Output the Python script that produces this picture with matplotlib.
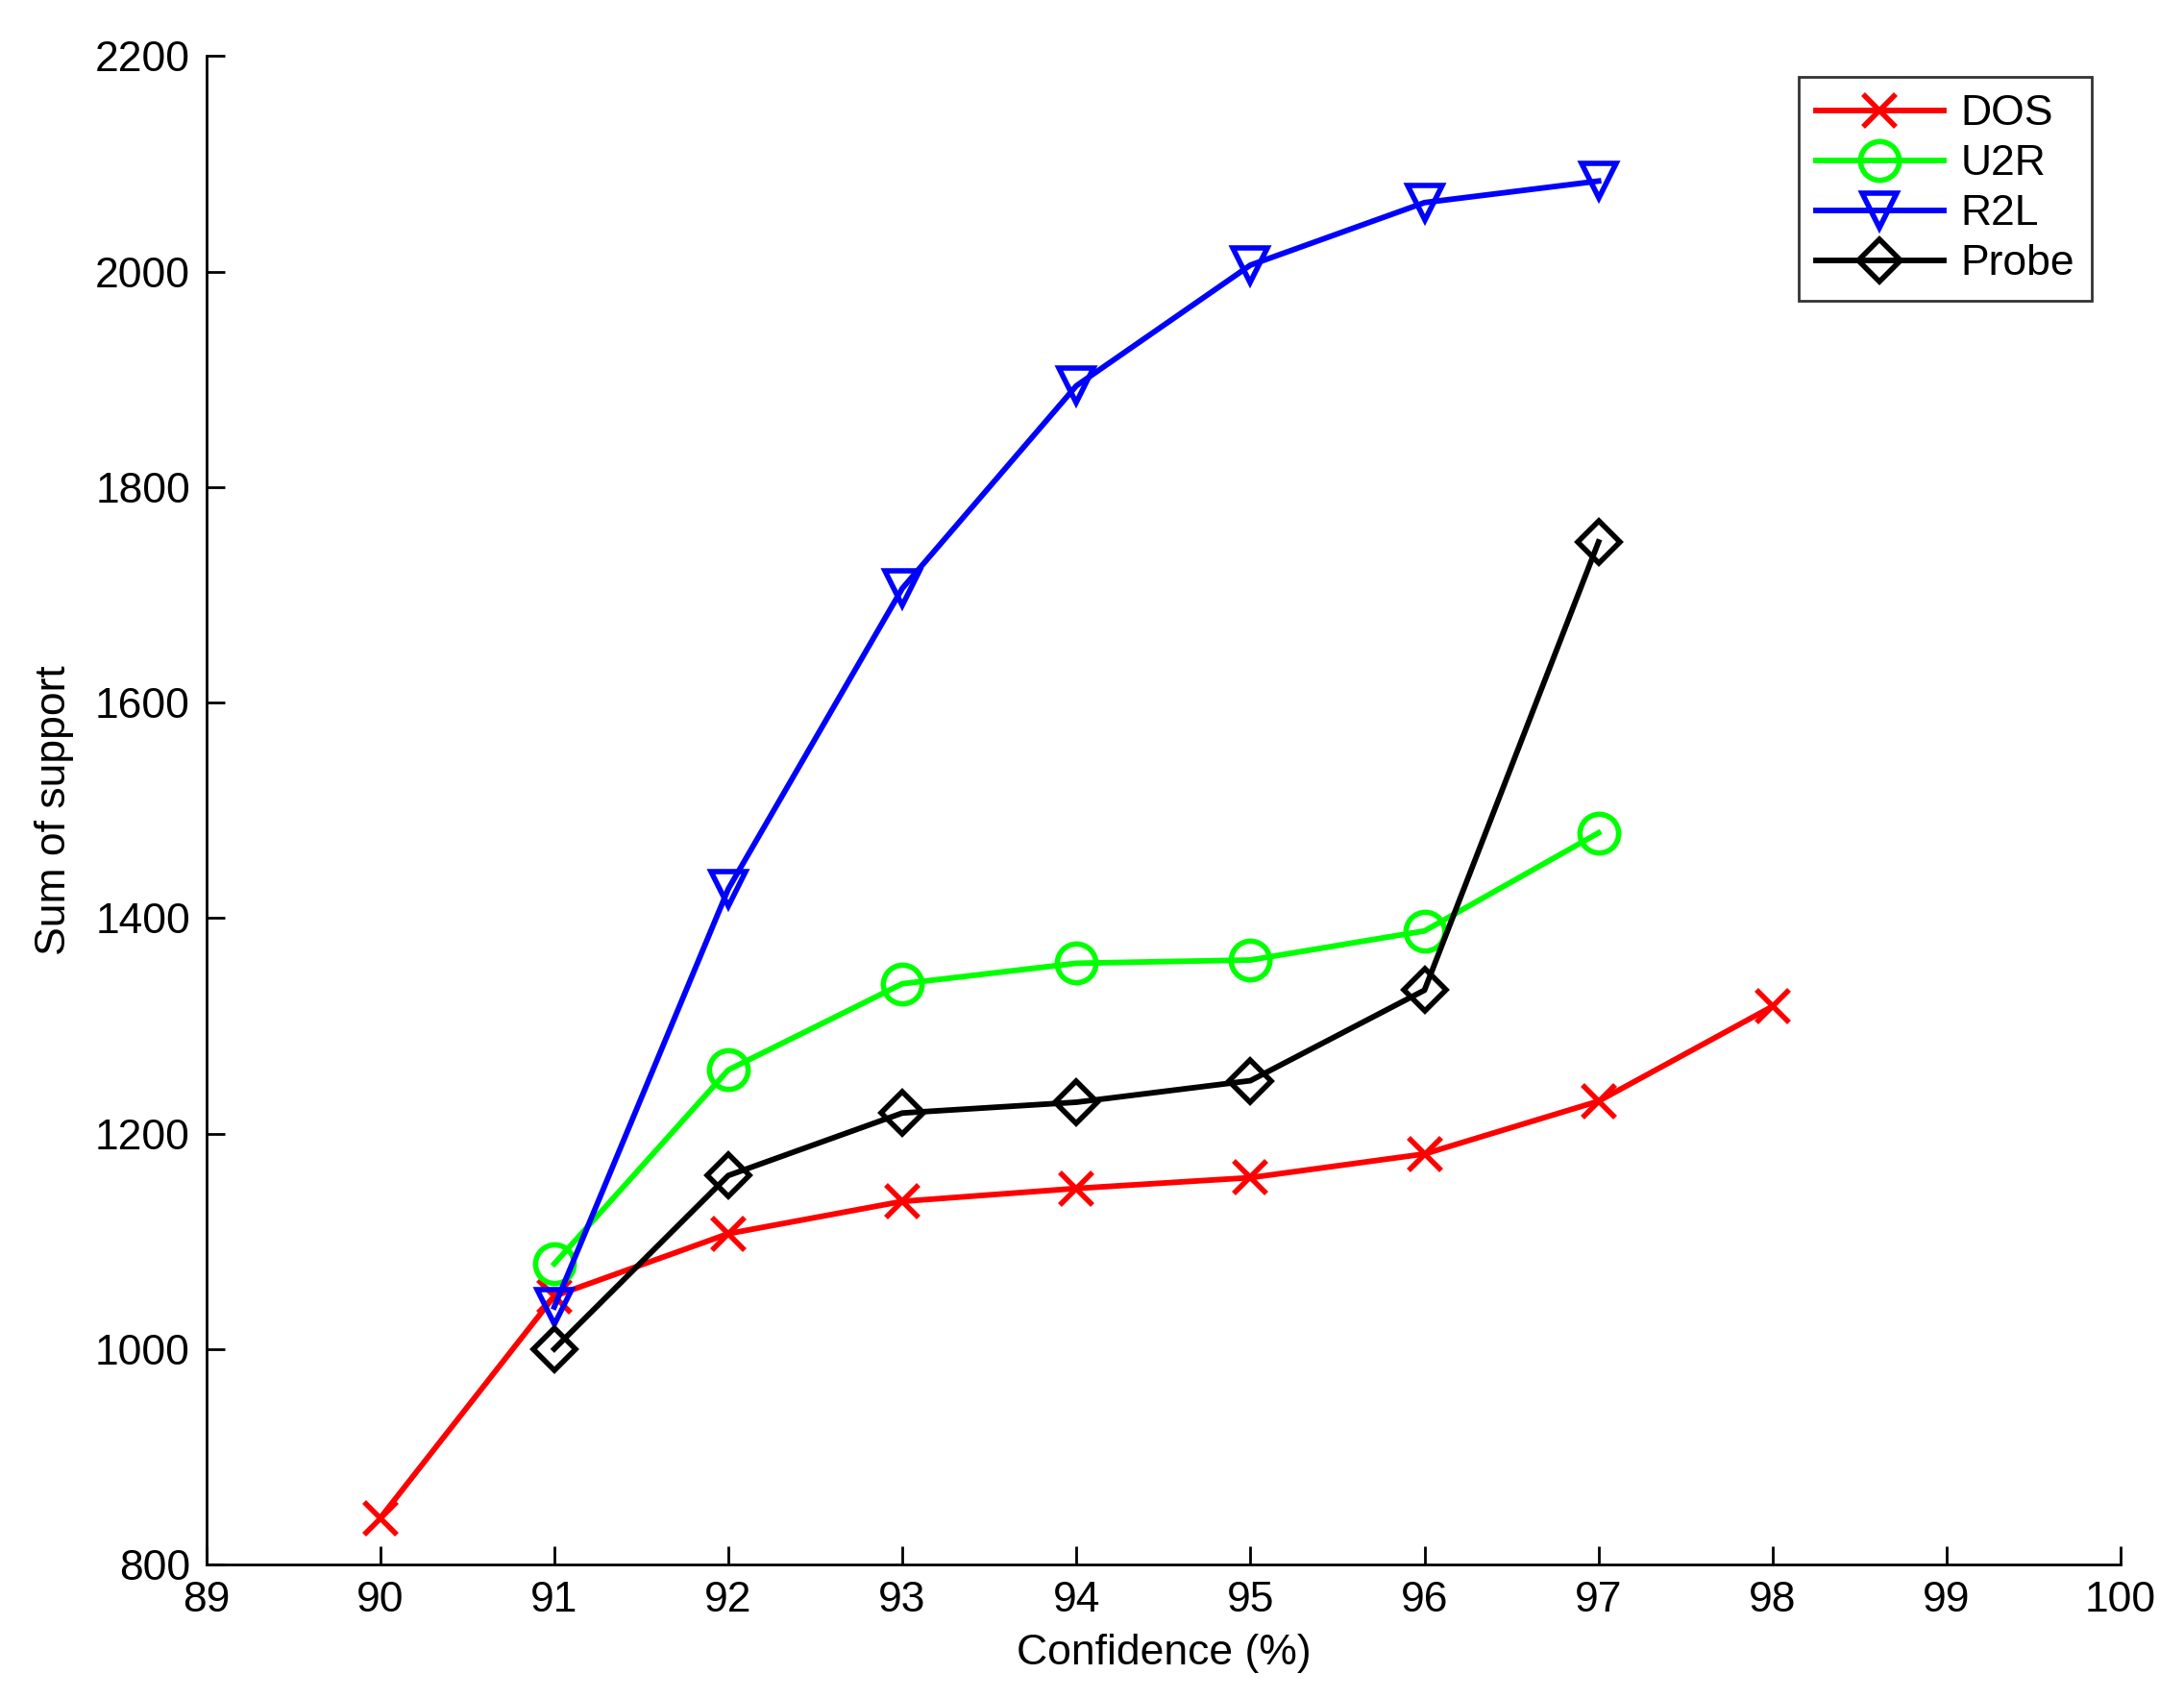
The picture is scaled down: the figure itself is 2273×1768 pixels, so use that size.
import matplotlib
matplotlib.use("Agg")
import matplotlib.pyplot as plt

plt.rcParams['font.family'] = ['Liberation Sans', 'DejaVu Sans']

dos_x = [90, 91, 92, 93, 94, 95, 96, 97, 98]
dos = [843, 1049, 1107, 1137, 1149, 1159, 1181, 1230, 1318]
u2r_x = [91, 92, 93, 94, 95, 96, 97]
u2r = [1079, 1259, 1339, 1358, 1361, 1388, 1479]
r2l_x = [91, 92, 93, 94, 95, 96, 97]
r2l = [1039, 1427, 1706, 1894, 2006, 2064, 2084]
probe_x = [91, 92, 93, 94, 95, 96, 97]
probe = [1000, 1161, 1219, 1229, 1249, 1333, 1749]

xticks = list(range(89, 101))
yticks = list(range(800, 2201, 200))

fig = plt.figure(figsize=(22.73, 17.68), dpi=100)
ax = fig.add_axes([0.0944, 0.0792, 0.8766, 0.8878])

lw = 4.2
mew = 4.0
ax.plot(dos_x, dos, color='#ff0000', lw=lw, marker='x', ms=24, mew=mew, label='DOS')
ax.plot(u2r_x, u2r, color='#00ff00', lw=lw, marker='o', ms=29, mew=mew, mfc='none', label='U2R')
ax.plot(r2l_x, r2l, color='#0000ff', lw=lw, marker='v', ms=26, mew=mew, mfc='none', label='R2L')
ax.plot(probe_x, probe, color='#000000', lw=lw, marker='D', ms=22, mew=mew, mfc='none', label='Probe')

ax.set_xlim(89, 100)
ax.set_ylim(800, 2200)
ax.set_xticks(xticks)
ax.set_yticks(yticks)
ax.tick_params(direction='in', length=14, width=2, labelsize=32, pad=12)
for s in ['top', 'right']:
    ax.spines[s].set_visible(False)
for s in ['left', 'bottom']:
    ax.spines[s].set_linewidth(2)

ax.set_xlabel('Confidence (%)', fontsize=32, labelpad=10)
ax.set_ylabel('Sum of support', fontsize=32, labelpad=16)

leg = ax.legend(loc='upper right', bbox_to_anchor=(0.985, 0.986), fontsize=32,
                handlelength=3.0, frameon=True, fancybox=False, edgecolor='black',
                borderpad=0.4, labelspacing=0.25, handletextpad=0.4, borderaxespad=0)
leg.get_frame().set_linewidth(2)

fig.savefig('out.png', dpi=100, facecolor='white')
